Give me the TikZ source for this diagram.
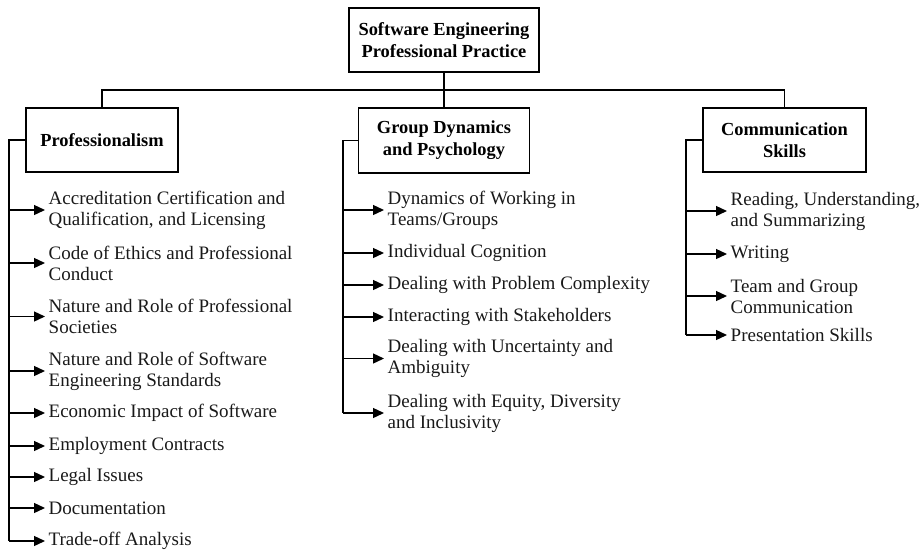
\documentclass[tikz,border=0pt]{standalone}
\usepackage{fontspec}
\setmainfont{Liberation Serif}
\usetikzlibrary{arrows.meta,calc}
\begin{document}
\begin{tikzpicture}[x=1pt,y=-1pt,
  box/.style={draw,line width=1.3pt,font=\fontsize{18.4}{22}\selectfont\bfseries,align=center,inner sep=0pt},
  item/.style={anchor=west,align=left,inner xsep=3.5pt,inner ysep=0pt,font=\fontsize{19}{21}\selectfont,text=black!90},
  conn/.style={line width=1.3pt},
  arr/.style={conn,-{Triangle[length=11pt,width=10pt]}}]
\useasboundingbox (0,0) rectangle (921,552);
% boxes
\node[box,minimum width=190,minimum height=64] (root) at (444,40) {Software Engineering\\Professional Practice};
\node[box,minimum width=152,minimum height=64] (prof) at (102,140) {Professionalism};
\node[box,minimum width=171,minimum height=65] (grp) at (444,140.5) {Group Dynamics\\and Psychology};
\node[box,minimum width=163,minimum height=64] (com) at (784.5,140) {Communication\\Skills};
\coordinate (bus) at (0,90);
\draw[conn] (root.south) -- (grp.north);
\draw[conn] (prof.north) -- (prof.north |- bus) -- (com.north |- bus) -- (com.north);
% trunks
\coordinate (tP) at (9,0);
\coordinate (tG) at (343,0);
\coordinate (tC) at (686,0);
% Professionalism items
\node[item] (p1) at (45,210) {Accreditation Certification and\\Qualification, and Licensing};
\node[item] (p2) at (45,263) {Code of Ethics and Professional\\Conduct};
\node[item] (p3) at (45,316.5) {Nature and Role of Professional\\Societies};
\node[item] (p4) at (45,371) {Nature and Role of Software\\Engineering Standards};
\node[item] (p5) at (45,413) {Economic Impact of Software};
\node[item] (p6) at (45,446) {Employment Contracts};
\node[item] (p7) at (45,477) {Legal Issues};
\node[item] (p8) at (45,508) {Documentation};
\node[item] (p9) at (45,541) {Trade-off Analysis};
\draw[conn] (prof.west) -- (prof.west -| tP) -- (tP |- p9.west);
\foreach \n in {p1,p2,p3,p4,p5,p6,p7,p8,p9}{\draw[arr] (tP |- \n.west) -- (\n.west);}
% Group items
\node[item] (g1) at (384,210) {Dynamics of Working in\\Teams/Groups};
\node[item] (g2) at (384,253) {Individual Cognition};
\node[item] (g3) at (384,285) {Dealing with Problem Complexity};
\node[item] (g4) at (384,317) {Interacting with Stakeholders};
\node[item] (g5) at (384,358.5) {Dealing with Uncertainty and\\Ambiguity};
\node[item] (g6) at (384,413) {Dealing with Equity, Diversity\\and Inclusivity};
\draw[conn] (grp.west) -- (grp.west -| tG) -- (tG |- g6.west);
\foreach \n in {g1,g2,g3,g4,g5,g6}{\draw[arr] (tG |- \n.west) -- (\n.west);}
% Communication items
\node[item] (c1) at (727,211) {Reading, Understanding,\\and Summarizing};
\node[item] (c2) at (727,254) {Writing};
\node[item] (c3) at (727,296) {Team and Group\\Communication};
\node[item] (c4) at (727,335) {Presentation Skills};
\draw[conn] (com.west) -- (com.west -| tC) -- (tC |- c4.west);
\foreach \n in {c1,c2,c3,c4}{\draw[arr] (tC |- \n.west) -- (\n.west);}
\end{tikzpicture}
\end{document}
